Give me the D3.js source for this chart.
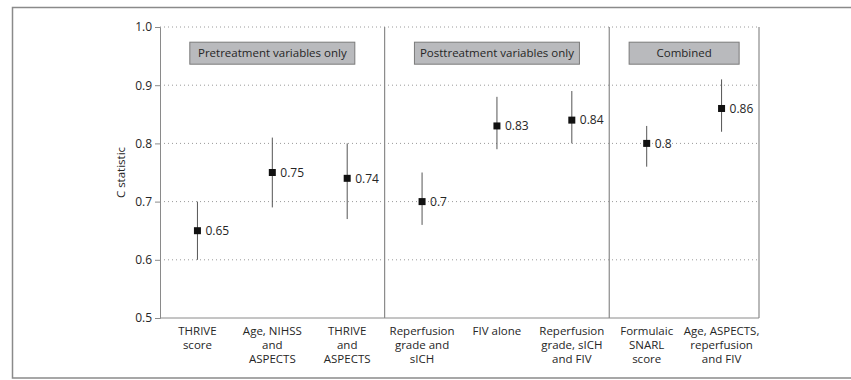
<!DOCTYPE html>
<html>
<head>
<meta charset="utf-8">
<script src="https://cdn.jsdelivr.net/npm/d3@7"></script>
<style>
  body { margin: 0; background: #fff; }
  text { font-family: "Open Sans", "Noto Sans", sans-serif; fill: #262626; }
</style>
</head>
<body>
<div id="chart"></div>
<script>
// category labels (line breaks as in the figure)
var categories = [
  ["THRIVE", "score"],
  ["Age, NIHSS", "and", "ASPECTS"],
  ["THRIVE", "and", "ASPECTS"],
  ["Reperfusion", "grade and", "sICH"],
  ["FIV alone"],
  ["Reperfusion", "grade, sICH", "and FIV"],
  ["Formulaic", "SNARL", "score"],
  ["Age, ASPECTS,", "reperfusion", "and FIV"]
];
var estimates = [0.65, 0.75, 0.74, 0.70, 0.83, 0.84, 0.80, 0.86];
var valueLabels = ["0.65", "0.75", "0.74", "0.7", "0.83", "0.84", "0.8", "0.86"];
var lower = [0.60, 0.69, 0.67, 0.66, 0.79, 0.80, 0.76, 0.82];
var upper = [0.70, 0.81, 0.80, 0.75, 0.88, 0.89, 0.83, 0.91];
var groupNames = ["Pretreatment variables only", "Posttreatment variables only", "Combined"];
var groupStart = [0, 3, 6];   // first category index of each group
var groupEnd = [2, 5, 7];     // last category index of each group
var yTicks = [0.5, 0.6, 0.7, 0.8, 0.9, 1.0];

var width = 851, height = 380;
var margin = {left: 160, top: 27, right: 92, bottom: 62};

var svg = d3.select("#chart")
  .append("svg")
  .attr("width", width)
  .attr("height", height);

// outer frame
svg.append("rect")
  .attr("x", 12.5).attr("y", 7.5)
  .attr("width", 850).attr("height", 370.5)
  .attr("fill", "none")
  .attr("stroke", "#8a8a8a")
  .attr("stroke-width", 1.5);

var x = d3.scaleBand()
  .domain(d3.range(categories.length))
  .range([margin.left, width - margin.right]);

var y = d3.scaleLinear()
  .domain([0.5, 1.0])
  .range([height - margin.bottom, margin.top]);

// dotted gridlines
svg.append("g")
  .selectAll("line")
  .data(yTicks.filter(function(d) { return d > 0.5; }))
  .enter()
  .append("line")
  .attr("x1", margin.left).attr("x2", width - margin.right)
  .attr("y1", function(d) { return y(d); })
  .attr("y2", function(d) { return y(d); })
  .attr("stroke", "#9a9a9a")
  .attr("stroke-width", 1)
  .attr("stroke-dasharray", "1,3");

// y axis
var yAxis = d3.axisLeft(y)
  .tickValues(yTicks)
  .tickFormat(d3.format(".1f"))
  .tickSize(5)
  .tickPadding(3);

var yg = svg.append("g")
  .attr("transform", "translate(" + margin.left + ",0)")
  .call(yAxis);
yg.select(".domain").attr("stroke", "#8a8a8a");
yg.selectAll(".tick line").attr("stroke", "#8a8a8a");
yg.selectAll(".tick text")
  .style("font-family", '"Open Sans", "Noto Sans", sans-serif')
  .style("font-size", "12px")
  .attr("fill", "#333");

// bottom line of plot
svg.append("line")
  .attr("x1", margin.left).attr("x2", width - margin.right)
  .attr("y1", y(0.5)).attr("y2", y(0.5))
  .attr("stroke", "#8a8a8a");

// group separators + right edge
var seps = groupEnd.map(function(e) { return x(e) + x.bandwidth(); });
svg.append("g")
  .selectAll("line")
  .data(seps)
  .enter()
  .append("line")
  .attr("x1", function(d) { return d; })
  .attr("x2", function(d) { return d; })
  .attr("y1", y(1.0)).attr("y2", y(0.5))
  .attr("stroke", "#8a8a8a")
  .attr("stroke-width", 1.2);

// group label boxes
var boxW = [165, 165, 110];
var groups = svg.append("g")
  .selectAll("g")
  .data(groupNames)
  .enter()
  .append("g")
  .attr("transform", function(d, i) {
    var cx = (x(groupStart[i]) + x(groupEnd[i]) + x.bandwidth()) / 2;
    return "translate(" + cx + "," + y(0.955) + ")";
  });

groups.append("rect")
  .attr("x", function(d, i) { return -boxW[i] / 2; })
  .attr("y", -11)
  .attr("width", function(d, i) { return boxW[i]; })
  .attr("height", 22)
  .attr("fill", "#b9babd")
  .attr("stroke", "#7a7a7a")
  .attr("stroke-width", 1);

groups.append("text")
  .attr("text-anchor", "middle")
  .attr("dy", "0.35em")
  .style("font-size", "11.5px")
  .text(function(d) { return d; });

// error bars
svg.append("g")
  .selectAll("line")
  .data(estimates)
  .enter()
  .append("line")
  .attr("x1", function(d, i) { return x(i) + x.bandwidth() / 2; })
  .attr("x2", function(d, i) { return x(i) + x.bandwidth() / 2; })
  .attr("y1", function(d, i) { return y(lower[i]); })
  .attr("y2", function(d, i) { return y(upper[i]); })
  .attr("stroke", "#555")
  .attr("stroke-width", 1);

// point estimates
var s = 7;
svg.append("g")
  .selectAll("rect")
  .data(estimates)
  .enter()
  .append("rect")
  .attr("x", function(d, i) { return x(i) + x.bandwidth() / 2 - s / 2; })
  .attr("y", function(d) { return y(d) - s / 2; })
  .attr("width", s).attr("height", s)
  .attr("fill", "#111");

svg.append("g")
  .selectAll("text")
  .data(estimates)
  .enter()
  .append("text")
  .attr("x", function(d, i) { return x(i) + x.bandwidth() / 2 + 8; })
  .attr("y", function(d) { return y(d); })
  .attr("dy", "0.35em")
  .style("font-size", "12px")
  .text(function(d, i) { return valueLabels[i]; });

// category labels
var xl = svg.append("g")
  .selectAll("text")
  .data(categories)
  .enter()
  .append("text")
  .attr("text-anchor", "middle")
  .attr("x", function(d, i) { return x(i) + x.bandwidth() / 2; })
  .attr("y", y(0.5) + 17)
  .style("font-size", "11.5px");

xl.selectAll("tspan")
  .data(function(d) { return d; })
  .enter()
  .append("tspan")
  .attr("x", function() { return d3.select(this.parentNode).attr("x"); })
  .attr("dy", function(d, j) { return j === 0 ? 0 : 14; })
  .text(function(d) { return d; });

// y axis title
svg.append("text")
  .attr("transform", "translate(125," + y(0.75) + ") rotate(-90)")
  .attr("text-anchor", "middle")
  .style("font-size", "11.5px")
  .text("C statistic");
</script>
</body>
</html>
